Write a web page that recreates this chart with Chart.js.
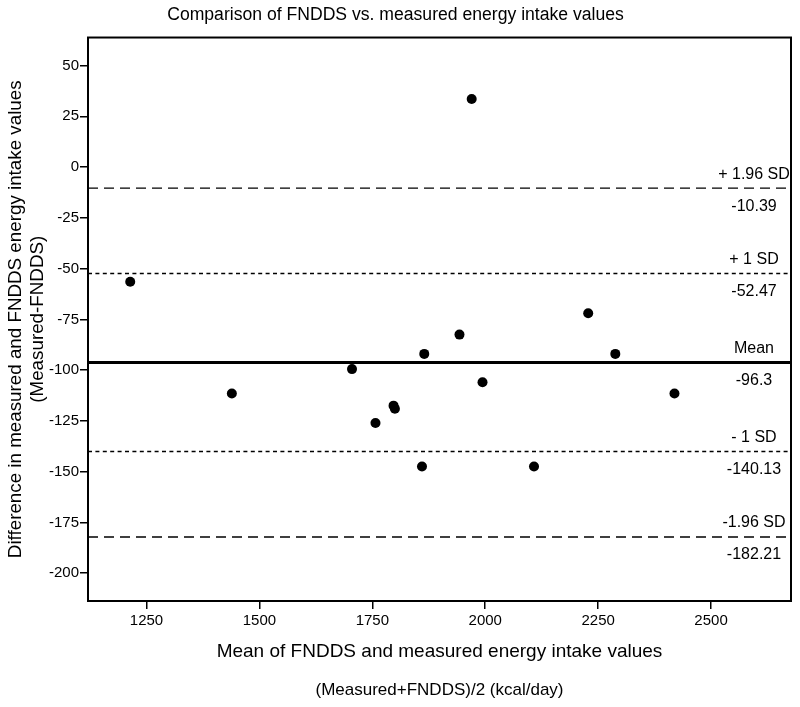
<!DOCTYPE html>
<html>
    <head>
        <meta charset="utf-8">
        <title>Comparison of FNDDS vs. measured energy intake values</title>
        <script src="https://cdn.jsdelivr.net/npm/chart.js@4.4.1/dist/chart.umd.min.js"></script>
        <style>
            body { margin: 0; background: #fff; }
            #wrap { width: 800px; height: 707px; }
        </style>
    </head>
    <body>
        <div id="wrap"><canvas id="ba-chart" width="800" height="707"></canvas></div>
        <script>
            // points: x = mean of both methods, y = measured - FNDDS
            var meanValues = [1970, 1214, 1439, 1705, 1865, 1943, 1994, 1797, 1800, 1757, 1860, 2108, 2228, 2288, 2419];
            var diffValues = [33.5, -56.5, -111.5, -99.5, -92, -82.5, -106, -117.5, -119, -126, -147.5, -147.5, -72, -92, -111.5];

            // reference lines (mean and limits)
            var limitNames = ['+ 1.96 SD', '+ 1 SD', 'Mean', '- 1 SD', '-1.96 SD'];
            var limitValues = [-10.39, -52.47, -96.3, -140.13, -182.21];
            var limitDash = [[10, 6], [4, 3.4], [], [4, 3.4], [10, 6]];
            var limitWidth = [1.4, 1.5, 3, 1.5, 1.4];

            var xTicks = [1250, 1500, 1750, 2000, 2250, 2500];
            var yTicks = [50, 25, 0, -25, -50, -75, -100, -125, -150, -175, -200];
            var xMin = 1120.5, xMax = 2677;
            var yMin = -213.7, yMax = 63.8;

            var FONT = "'Liberation Sans', Arial, Helvetica, sans-serif";

            var points = [];
            for (var i = 0; i < meanValues.length; i++) {
                points.push({x: meanValues[i], y: diffValues[i]});
            }

            var datasets = [];
            for (var i = 0; i < limitValues.length; i++) {
                datasets.push({
                    type: 'line',
                    data: [{x: xMin, y: limitValues[i]}, {x: xMax, y: limitValues[i]}],
                    borderColor: '#000',
                    borderWidth: limitWidth[i],
                    borderDash: limitDash[i],
                    pointRadius: 0,
                    fill: false
                });
            }
            datasets.push({
                type: 'scatter',
                data: points,
                backgroundColor: '#000',
                borderWidth: 0,
                pointRadius: 5
            });

            // frame, line labels and the second line of the x title
            var extras = {
                id: 'extras',
                afterDraw: function(chart) {
                    var ctx = chart.ctx, a = chart.chartArea, ys = chart.scales.y;
                    ctx.save();
                    ctx.strokeStyle = '#000';
                    ctx.lineWidth = 2;
                    ctx.strokeRect(a.left, a.top, a.right - a.left, a.bottom - a.top);

                    ctx.fillStyle = '#000';
                    ctx.font = '16px ' + FONT;
                    ctx.textAlign = 'center';
                    ctx.textBaseline = 'middle';
                    var cx = a.right - 37;
                    for (var i = 0; i < limitValues.length; i++) {
                        var py = ys.getPixelForValue(limitValues[i]);
                        ctx.fillText(limitNames[i], cx, py - 14);
                        ctx.fillText(String(limitValues[i]), cx, py + 18);
                    }

                    ctx.font = '17px ' + FONT;
                    ctx.fillText('(Measured+FNDDS)/2 (kcal/day)', (a.left + a.right) / 2, 690);
                    ctx.restore();
                }
            };

            new Chart(document.getElementById('ba-chart'), {
                type: 'scatter',
                data: {datasets: datasets},
                plugins: [extras],
                options: {
                    responsive: false,
                    animation: false,
                    layout: {padding: {left: 0, right: 9, top: 0, bottom: 0}},
                    plugins: {
                        legend: {display: false},
                        tooltip: {enabled: false},
                        title: {
                            display: true,
                            text: 'Comparison of FNDDS vs. measured energy intake values',
                            color: '#000',
                            font: {family: FONT, size: 17.6, weight: 'normal', lineHeight: 1.2},
                            padding: {top: 5, bottom: 11.4}
                        }
                    },
                    scales: {
                        x: {
                            type: 'linear',
                            min: xMin,
                            max: xMax,
                            afterBuildTicks: function(s) { s.ticks = xTicks.map(v => ({value: v})); },
                            afterFit: function(s) { s.height = 106; },
                            ticks: {color: '#000', padding: 3, font: {family: FONT, size: 15}, maxRotation: 0,
                                    callback: function(v) { return String(v); }},
                            grid: {drawOnChartArea: false, drawTicks: true, tickLength: 8, color: '#000', lineWidth: 1.5},
                            border: {display: true, color: '#000', width: 2},
                            title: {
                                display: true,
                                text: 'Mean of FNDDS and measured energy intake values',
                                color: '#000',
                                font: {family: FONT, size: 19, lineHeight: 1.15},
                                padding: {top: 0, bottom: 44.4}
                            }
                        },
                        y: {
                            type: 'linear',
                            min: yMin,
                            max: yMax,
                            afterBuildTicks: function(s) { s.ticks = yTicks.map(v => ({value: v})); },
                            afterFit: function(s) { s.width = 88; },
                            ticks: {color: '#000', padding: 1, font: {family: FONT, size: 15},
                                    callback: function(v) { return String(v); }},
                            grid: {drawOnChartArea: false, drawTicks: true, tickLength: 8, color: '#000', lineWidth: 1.5},
                            border: {display: true, color: '#000', width: 2},
                            title: {
                                display: true,
                                text: ['Difference in measured and FNDDS energy intake values', '(Measured-FNDDS)'],
                                color: '#000',
                                font: {family: FONT, size: 18.8, lineHeight: 1.15},
                                padding: {top: 5, bottom: 0}
                            }
                        }
                    }
                }
            });
        </script>
    </body>
</html>
